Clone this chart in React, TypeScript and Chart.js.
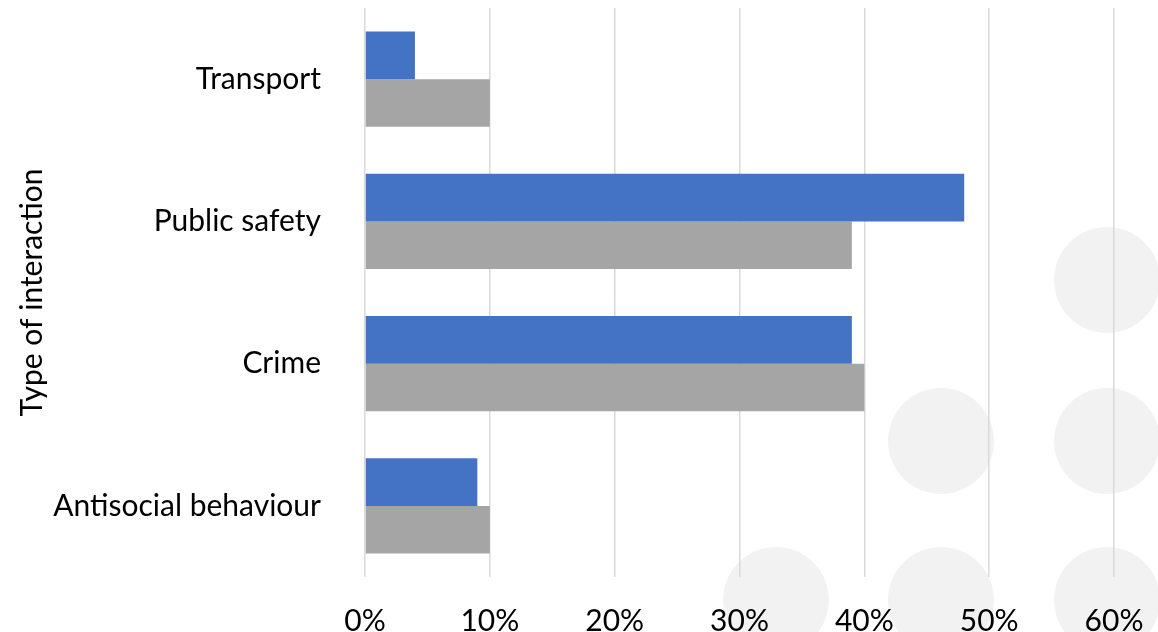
import React, { useEffect, useRef } from "react";
import { Chart, registerables } from "chart.js";

Chart.register(...registerables);

const categories = ["Transport", "Public safety", "Crime", "Antisocial behaviour"];
const seriesBlue = [4, 48, 39, 9];
const seriesGray = [10, 39, 40, 10];
const xTicks = [0, 10, 20, 30, 40, 50, 60];
const axisTitle = "Type of interaction";

const FONT = "Lato, 'Open Sans', sans-serif";

const circles = [
  { cx: 1107, cy: 280 },
  { cx: 941, cy: 441 },
  { cx: 1107, cy: 441 },
  { cx: 776, cy: 600 },
  { cx: 941, cy: 600 },
  { cx: 1107, cy: 600 },
];

const zeroPadding = (axis: any) => {
  axis.paddingTop = 0;
  axis.paddingBottom = 0;
  axis.paddingLeft = 0;
  axis.paddingRight = 0;
};

export default function App() {
  const ref = useRef<HTMLCanvasElement | null>(null);

  useEffect(() => {
    if (!ref.current) return;
    const chart = new Chart(ref.current, {
      type: "bar",
      data: {
        labels: categories,
        datasets: [
          {
            label: "Series 1",
            data: seriesBlue,
            backgroundColor: "#4472C4",
            categoryPercentage: 0.668,
            barPercentage: 1,
          },
          {
            label: "Series 2",
            data: seriesGray,
            backgroundColor: "#A5A5A5",
            categoryPercentage: 0.668,
            barPercentage: 1,
          },
        ],
      },
      options: {
        indexAxis: "y",
        animation: false,
        responsive: false,
        layout: { autoPadding: false, padding: { top: 8, right: 44, left: 0, bottom: 0 } },
        plugins: {
          legend: { display: false },
          tooltip: { enabled: false },
        },
        scales: {
          x: {
            min: 0,
            max: 60,
            afterBuildTicks: (axis: any) => {
              axis.ticks = xTicks.map((v) => ({ value: v }));
            },
            afterFit: (axis: any) => {
              axis.height = 55;
              zeroPadding(axis);
            },
            grid: { color: "#D9D9D9", lineWidth: 1.5, drawTicks: false },
            border: { display: false },
            ticks: {
              callback: (v: any) => v + "%",
              color: "#000",
              font: { family: FONT, size: 30 },
              padding: 26,
              maxRotation: 0,
            },
          },
          y: {
            afterFit: (axis: any) => {
              axis.width = 365;
              zeroPadding(axis);
            },
            grid: { display: false, drawTicks: false },
            border: { display: false },
            ticks: {
              color: "#000",
              font: { family: FONT, size: 30 },
              padding: 44,
            },
            title: {
              display: true,
              text: axisTitle,
              color: "#000",
              font: { family: FONT, size: 30 },
              padding: { top: 14, bottom: 0 },
            },
          },
        },
      },
    });
    return () => chart.destroy();
  }, []);

  return (
    <div style={{ position: "fixed", left: 0, top: 0, width: 1158, height: 632, background: "#fff", overflow: "hidden" }}>
      {circles.map((c, i) => (
        <div
          key={i}
          style={{
            position: "absolute",
            left: c.cx - 53,
            top: c.cy - 53,
            width: 106,
            height: 106,
            borderRadius: "50%",
            background: "#F2F2F2",
          }}
        />
      ))}
      <canvas ref={ref} width={1158} height={632} style={{ position: "absolute", left: 0, top: 0 }} />
    </div>
  );
}
